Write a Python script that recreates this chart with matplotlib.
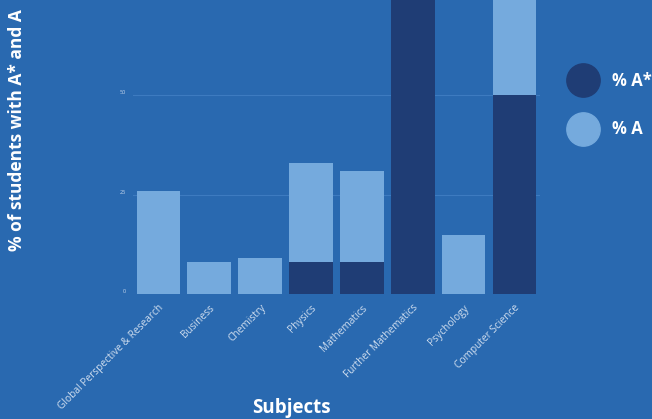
import matplotlib.pyplot as plt
from matplotlib.lines import Line2D

subjects = ["Global Perspective & Research", "Business", "Chemistry", "Physics",
            "Mathematics", "Further Mathematics", "Psychology", "Computer Science"]
a_star = [0, 0, 0, 8, 8, 80, 0, 50]
a_only = [26, 8, 9, 25, 23, 0, 15, 50]
y_ticks = [0, 25, 50]

bg = "#2969b0"
dark = "#1f3d75"
light = "#75aadd"

plt.rcParams["font.family"] = ["Open Sans", "DejaVu Sans"]

fig = plt.figure(figsize=(6.52, 4.19), dpi=100)
fig.patch.set_facecolor(bg)
ax = fig.add_axes([0.204, 0.298, 0.624, 0.702])
ax.set_facecolor(bg)

x = list(range(len(subjects)))
ax.bar(x, a_star, width=0.86, color=dark, zorder=3)
ax.bar(x, a_only, width=0.86, bottom=a_star, color=light, zorder=3)

ax.set_xlim(-0.5, 7.5)
ax.set_ylim(0, 74)
ax.set_yticks(y_ticks)
ax.set_yticklabels([str(t) for t in y_ticks], fontsize=4, color="#c5d6ec")
for lab in ax.get_yticklabels():
    lab.set_va("bottom")
ax.grid(axis="y", color="#3d7bc0", linewidth=0.8, zorder=0)

ax.set_xticks(x)
ax.set_xticklabels(subjects, rotation=45, ha="right", rotation_mode="anchor",
                   fontsize=7.3, color="#d0deef")
ax.tick_params(axis="x", length=0, pad=6)
ax.tick_params(axis="y", length=0, pad=5)
for s in ax.spines.values():
    s.set_visible(False)

fig.text(0.026, 0.69, "% of students with A* and A", rotation=90, ha="center", va="center",
         fontsize=12.5, fontweight="bold", color="white")
fig.text(0.447, 0.027, "Subjects", ha="center", va="center",
         fontsize=13.5, fontweight="bold", color="white")

handles = [Line2D([], [], marker="o", linestyle="", markersize=24, color=dark),
           Line2D([], [], marker="o", linestyle="", markersize=24, color=light)]
leg = fig.legend(handles, ["% A*", "% A"], loc="upper left", bbox_to_anchor=(0.852, 0.865),
                 frameon=False, labelspacing=1.85, handlelength=1.5, handletextpad=1.0,
                 prop={"weight": "bold", "size": 12})
for t in leg.get_texts():
    t.set_color("white")

fig.savefig("out.png", dpi=100, facecolor=bg)
